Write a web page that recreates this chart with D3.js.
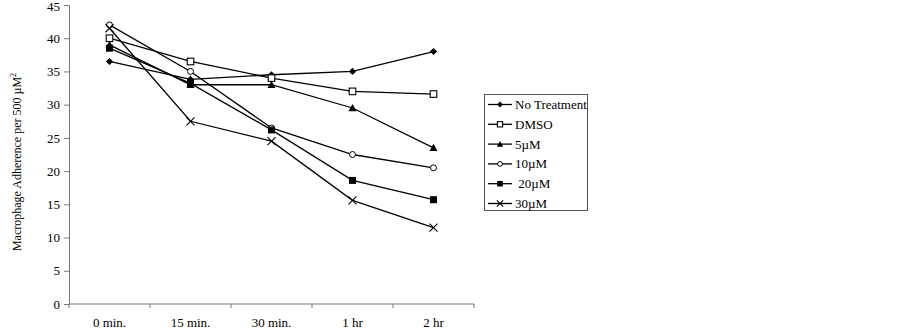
<!DOCTYPE html>
<html>
<head>
<meta charset="utf-8">
<script src="https://cdn.jsdelivr.net/npm/d3@7"></script>
<style>
  body { margin: 0; background: #fff; }
  svg { font-family: "Liberation Serif", "Times New Roman", serif; }
</style>
</head>
<body>
<svg id="chart" width="902" height="335"></svg>
<script>
const categories = ['0 min.', '15 min.', '30 min.', '1 hr', '2 hr'];
const yTicks = [0, 5, 10, 15, 20, 25, 30, 35, 40, 45];

const noTreatment = [36.5, 33.8, 34.5, 35, 38];
const dmso = [40, 36.5, 34, 32, 31.6];
const um5 = [39, 33, 33, 29.5, 23.5];
const um10 = [42, 35, 26.5, 22.5, 20.5];
const um20 = [38.5, 33.2, 26.2, 18.6, 15.7];
const um30 = [41.5, 27.5, 24.5, 15.6, 11.5];

const series = [
  { name: 'No Treatment', values: noTreatment, marker: 'diamond' },
  { name: 'DMSO', values: dmso, marker: 'squareOpen' },
  { name: '5\u00b5M', values: um5, marker: 'triangle' },
  { name: '10\u00b5M', values: um10, marker: 'circleOpen' },
  { name: ' 20\u00b5M', values: um20, marker: 'square' },
  { name: '30\u00b5M', values: um30, marker: 'cross' }
];

const svg = d3.select('#chart');
const margin = { left: 69, right: 428, top: 5, bottom: 31 };
const width = 902, height = 335;

const x = d3.scaleBand().domain(categories).range([margin.left, width - margin.right]);
const y = d3.scaleLinear().domain([0, 45]).range([height - margin.bottom, margin.top]);

// y axis
const yAxis = svg.append('g')
  .attr('transform', `translate(${margin.left},0)`)
  .call(d3.axisLeft(y).tickValues(yTicks).tickSize(5).tickPadding(4));
yAxis.selectAll('path, line').attr('stroke', '#777');
yAxis.selectAll('text').attr('font-size', 13).attr('font-family', 'Liberation Serif').attr('fill', '#000');
yAxis.selectAll('text').filter(d => d === 45).attr('dy', '0.45em');

// x axis with ticks at band edges
const xg = svg.append('g').attr('transform', `translate(0,${y(0)})`);
xg.append('line')
  .attr('x1', x.range()[0]).attr('x2', x.range()[1])
  .attr('stroke', '#777');
const edges = categories.map(c => x(c)).concat([x.range()[1]]);
xg.selectAll('.xt').data(edges).enter().append('line')
  .attr('x1', d => d).attr('x2', d => d).attr('y1', 0).attr('y2', 4)
  .attr('stroke', '#777');
xg.selectAll('.xl').data(categories).enter().append('text')
  .attr('x', d => x(d) + x.bandwidth() / 2)
  .attr('y', 23)
  .attr('text-anchor', 'middle')
  .attr('font-size', 13)
  .text(d => d);

// y label
const yl = svg.append('text')
  .attr('transform', `translate(21,162) rotate(-90)`)
  .attr('text-anchor', 'middle')
  .attr('font-size', 12);
yl.append('tspan').text('Macrophage Adherence per 500 \u00b5M');
yl.append('tspan').attr('font-size', 8).attr('dy', -5).text('2');

function drawMarker(g, type, cx, cy, k = 1) {
  const s = 3.6 * k;
  if (type === 'diamond') {
    g.append('path').attr('d', `M${cx},${cy - s}L${cx + s},${cy}L${cx},${cy + s}L${cx - s},${cy}Z`).attr('fill', '#000');
  } else if (type === 'squareOpen') {
    g.append('rect').attr('x', cx - 3.3 * k).attr('y', cy - 3.3 * k).attr('width', 6.6 * k).attr('height', 6.6 * k)
      .attr('fill', '#fff').attr('stroke', '#000').attr('stroke-width', 1.1);
  } else if (type === 'triangle') {
    g.append('path').attr('d', `M${cx},${cy - 4 * k}L${cx + 4 * k},${cy + 3.2 * k}L${cx - 4 * k},${cy + 3.2 * k}Z`).attr('fill', '#000');
  } else if (type === 'circleOpen') {
    g.append('circle').attr('cx', cx).attr('cy', cy).attr('r', 3 * k)
      .attr('fill', '#fff').attr('stroke', '#000').attr('stroke-width', 1);
  } else if (type === 'square') {
    g.append('rect').attr('x', cx - 3.5 * k).attr('y', cy - 3.5 * k).attr('width', 7 * k).attr('height', 7 * k).attr('fill', '#000');
  } else if (type === 'cross') {
    g.append('path').attr('d', `M${cx - 4 * k},${cy - 4 * k}L${cx + 4 * k},${cy + 4 * k}M${cx - 4 * k},${cy + 4 * k}L${cx + 4 * k},${cy - 4 * k}`)
      .attr('stroke', '#000').attr('stroke-width', 1.1);
  }
}

const line = d3.line()
  .x((d, i) => x(categories[i]) + x.bandwidth() / 2)
  .y(d => y(d));

series.forEach(s => {
  const g = svg.append('g');
  g.append('path').datum(s.values).attr('d', line)
    .attr('fill', 'none').attr('stroke', '#000').attr('stroke-width', 1.3);
  s.values.forEach((v, i) => drawMarker(g, s.marker, x(categories[i]) + x.bandwidth() / 2, y(v)));
});

// legend
const lg = svg.append('g');
lg.append('rect').attr('x', 484.5).attr('y', 94.5).attr('width', 103).attr('height', 116)
  .attr('fill', '#fff').attr('stroke', '#555');
series.forEach((s, i) => {
  const ly = 104.5 + i * 19.8;
  lg.append('line').attr('x1', 488).attr('x2', 512).attr('y1', ly).attr('y2', ly)
    .attr('stroke', '#000').attr('stroke-width', 1.3);
  drawMarker(lg, s.marker, 500, ly, 0.8);
  lg.append('text').attr('x', 515).attr('y', ly + 4.5).attr('font-size', 13)
    .attr('xml:space', 'preserve').style('white-space', 'pre').text(s.name);
});
</script>
</body>
</html>
